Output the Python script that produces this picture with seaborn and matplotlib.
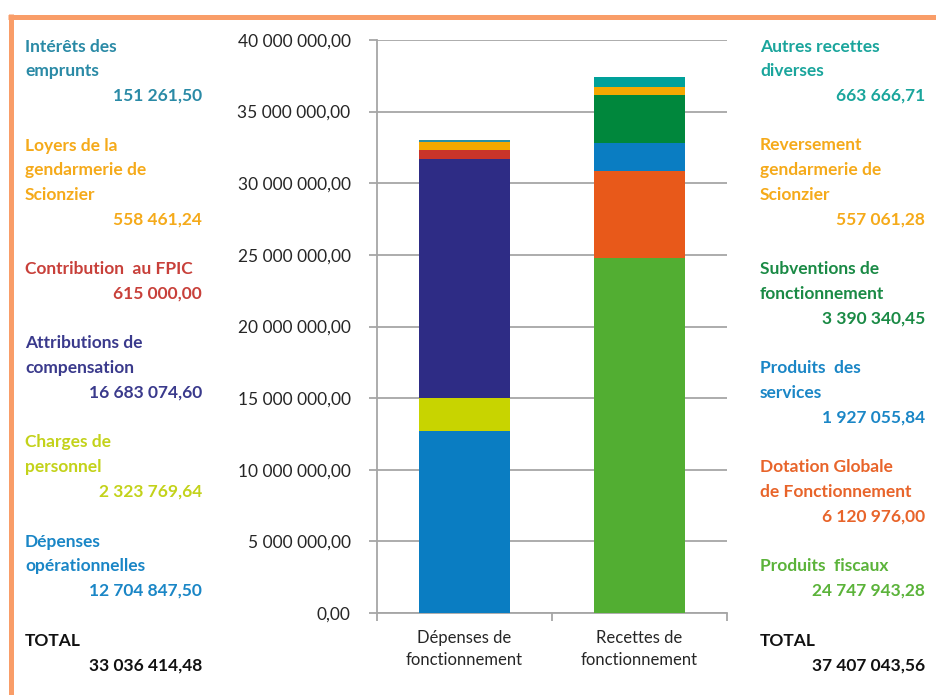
import seaborn as sns
import matplotlib.pyplot as plt
from matplotlib.lines import Line2D
from matplotlib.ticker import FuncFormatter

# Categories on the x axis
categories = ['Dépenses de\nfonctionnement', 'Recettes de\nfonctionnement']

# Stack layers, bottom to top
depenses_labels = ['Dépenses\nopérationnelles', 'Charges de\npersonnel',
                   'Attributions de\ncompensation', 'Contribution  au FPIC',
                   'Loyers de la\ngendarmerie de\nScionzier', 'Intérêts des\nemprunts']
depenses_values = [12704847.50, 2323769.64, 16683074.60, 615000.00, 558461.24, 151261.50]
depenses_colors = ['#0a7dc2', '#c8d400', '#2e2c85', '#c9342a', '#f5a800', '#2b8fa5']
depenses_text_colors = ['#1a86c6', '#c3d21a', '#3a3a8c', '#c8403a', '#f5aa1a', '#2a8aa6']

recettes_labels = ['Produits  fiscaux', 'Dotation Globale\nde Fonctionnement',
                   'Produits  des\nservices', 'Subventions de\nfonctionnement',
                   'Reversement\ngendarmerie de\nScionzier', 'Autres recettes\ndiverses']
recettes_values = [24747943.28, 6120976.00, 1927055.84, 3390340.45, 557061.28, 663666.71]
recettes_colors = ['#52ae32', '#e8591a', '#0a7dc2', '#00873c', '#f5a800', '#00a19a']
recettes_text_colors = ['#5bb33a', '#e8642a', '#1a86c6', '#1a8a45', '#f5aa1a', '#1aa59c']

yticks = [0, 5e6, 10e6, 15e6, 20e6, 25e6, 30e6, 35e6, 40e6]


def fr(v):
    # French number format: 12 345,67
    return f'{v:,.2f}'.replace(',', ' ').replace('.', ',')


plt.rcParams['font.family'] = ['Lato', 'DejaVu Sans']

W, H = 936, 695
fig = plt.figure(figsize=(W / 100, H / 100), dpi=100)
ax = fig.add_axes([377 / W, 1 - 613 / H, 350 / W, 573 / H])

# cumulative heights, overlay from top layer down
cum_dep = [sum(depenses_values[:i + 1]) for i in range(len(depenses_values))]
cum_rec = [sum(recettes_values[:i + 1]) for i in range(len(recettes_values))]
for i in reversed(range(len(cum_dep))):
    sns.barplot(x=categories, y=[cum_dep[i], cum_rec[i]], hue=categories,
                palette=dict(zip(categories, [depenses_colors[i], recettes_colors[i]])),
                legend=False, width=0.525, saturation=1, linewidth=0, ax=ax, zorder=3)

grid_c = '#a6a6a6'
ax.set_xlim(-0.5, 1.5)
ax.set_ylim(0, 40e6)
ax.set_yticks(yticks)
ax.yaxis.set_major_formatter(FuncFormatter(lambda v, p: fr(v)))
ax.yaxis.grid(True, color=grid_c, linewidth=1.3, zorder=0)
ax.set_axisbelow(True)
for s in ['top', 'right']:
    ax.spines[s].set_visible(False)
for s in ['left', 'bottom']:
    ax.spines[s].set_color(grid_c)
    ax.spines[s].set_linewidth(1.3)
ax.tick_params(axis='y', length=6, width=1.3, color=grid_c, pad=13,
               labelsize=12.5, labelcolor='#262626')
ax.set_xticks([-0.5, 0.5, 1.5], minor=True)
ax.tick_params(axis='x', which='minor', length=6, width=1.3, color=grid_c)
ax.tick_params(axis='x', which='major', length=0, pad=12, labelsize=12,
               labelcolor='#262626')
for lbl in ax.get_xticklabels():
    lbl.set_linespacing(1.5)
ax.set_xlabel('')
ax.set_ylabel('')


def column(labels, values, colors, x_left, x_right):
    step = 24.75
    k = 0
    blocks = list(zip(labels, values, colors))[::-1]
    blocks.append(('TOTAL', sum(values), '#111111'))
    for lab, val, col in blocks:
        for line in lab.split('\n'):
            fig.text(x_left / W, 1 - (46.5 + k * step) / H, line, color=col,
                     fontsize=12.5, fontweight='bold', ha='left', va='center')
            k += 1
        fig.text(x_right / W, 1 - (46.5 + k * step) / H, fr(val), color=col,
                 fontsize=12.5, fontweight='bold', ha='right', va='center')
        k += 2


column(depenses_labels, depenses_values, depenses_text_colors, 25, 202)
column(recettes_labels, recettes_values, recettes_text_colors, 760, 925)

# orange frame (top and left edges)
frame_c = '#f99d68'
fig.add_artist(Line2D([8 / W, 1], [1 - 16.5 / H, 1 - 16.5 / H], color=frame_c,
                      linewidth=3.6, transform=fig.transFigure, solid_capstyle='butt'))
fig.add_artist(Line2D([10.5 / W, 10.5 / W], [1 - 14 / H, 0], color=frame_c,
                      linewidth=3.6, transform=fig.transFigure, solid_capstyle='butt'))

plt.savefig('out.png', dpi=100)
